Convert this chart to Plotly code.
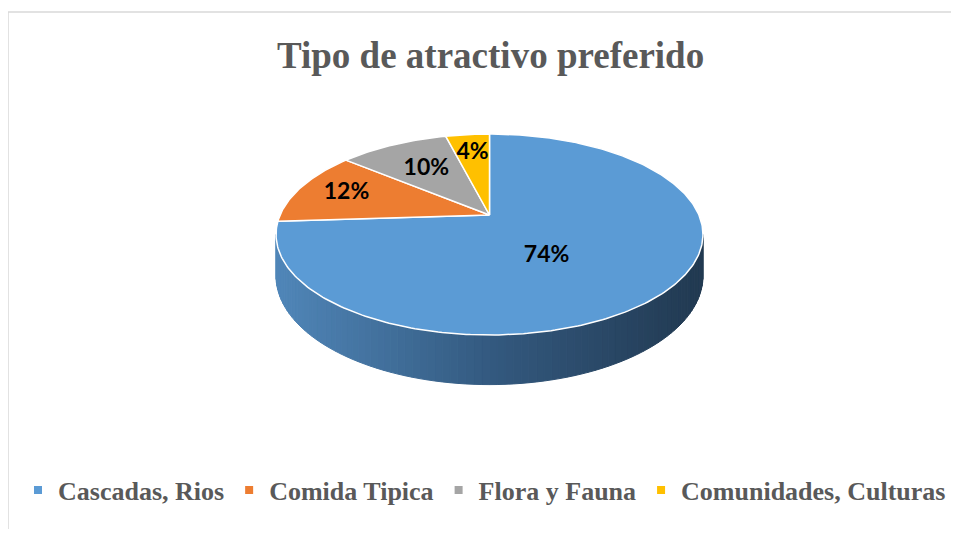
import numpy as np
import plotly.graph_objects as go

# ---------------- data ----------------
categories = ["Cascadas, Rios", "Comida Tipica", "Flora y Fauna", "Comunidades, Culturas"]
values = [74, 12, 10, 4]
slice_colors = ["#5B9BD5", "#ED7D31", "#A5A5A5", "#FFC000"]
title_text = "Tipo de atractivo preferido"

# ---------------- style / geometry ----------------
OFF = 8                    # page body margin of the browser
W, H = 959 - 2 * OFF, 537 - 2 * OFF
CX, CY = 489.5, 215.0      # projected pie centre (page pixels)
A, B = 209.4, 96.7         # horizontal / vertical radius scale
K = 0.194                  # perspective factor
DEPTH = 40.0               # thickness of the pie
LABEL_R = [0.47, 0.75, 0.62, 0.74]
LABEL_DA = [0.04, 0.0, 0.0, 0.0]   # small angular nudges (fraction of turn)


def proj(r, theta, depth=0.0):
    x = r * np.sin(theta)
    y = r * np.cos(theta)
    w = 1 + K * y
    return CX + A * x / w, CY - B * y / w + depth / w


fig = go.Figure()

total = float(sum(values))
fracs = [v / total for v in values]
starts = np.concatenate([[0.0], np.cumsum(fracs)[:-1]])

# ---------- side wall (visible front arc of the first slice) ----------
t_lo = np.arccos(-K)
t_hi = 2 * np.pi - t_lo
blue_end = 2 * np.pi * fracs[0]
t_hi = min(t_hi, blue_end)
N = 90
ts = np.linspace(t_lo, t_hi, N + 1)
c_left = np.array([80, 134, 184])
c_mid = np.array([52, 90, 128])
c_right = np.array([34, 58, 82])
for i in range(N):
    ta, tb = ts[i], ts[i + 1]
    xa, ya = proj(1, ta)
    xb, yb = proj(1, tb)
    xa2, ya2 = proj(1, ta, DEPTH)
    xb2, yb2 = proj(1, tb, DEPTH)
    xm = (xa + xb) / 2
    f = (xm - (CX - A)) / (2 * A)
    f = min(max(f, 0), 1)
    if f < 0.5:
        c = c_left + (c_mid - c_left) * (f / 0.5)
    else:
        c = c_mid + (c_right - c_mid) * ((f - 0.5) / 0.5)
    col = "rgb(%d,%d,%d)" % tuple(c.astype(int))
    fig.add_trace(go.Scatter(
        x=[xa, xb, xb2, xa2, xa], y=[ya, yb, yb2, ya2, ya],
        mode="lines", fill="toself", fillcolor=col,
        line=dict(color=col, width=1), hoverinfo="skip", showlegend=False))

# ---------- top face slices ----------
for i, (cat, fr, st) in enumerate(zip(categories, fracs, starts)):
    a0 = 2 * np.pi * st
    a1 = 2 * np.pi * (st + fr)
    n = max(int(fr * 400), 8)
    th = np.linspace(a0, a1, n)
    px, py = proj(1, th)
    xs = np.concatenate([[CX], px, [CX]])
    ys = np.concatenate([[CY], py, [CY]])
    fig.add_trace(go.Scatter(
        x=xs, y=ys, mode="lines", fill="toself", fillcolor=slice_colors[i],
        line=dict(color="white", width=1.5), hoverinfo="skip", showlegend=False))

# ---------- data labels ----------
lx, ly = [], []
for i, (fr, st) in enumerate(zip(fracs, starts)):
    mid = 2 * np.pi * (st + fr / 2 + LABEL_DA[i])
    x, y = proj(LABEL_R[i], mid)
    lx.append(x)
    ly.append(y)
fig.add_trace(go.Scatter(
    x=lx, y=ly, mode="text", text=["%d%%" % v for v in values],
    textfont=dict(family="Lato, Open Sans, sans-serif", size=23, color="black", weight="bold"),
    hoverinfo="skip", showlegend=False))

# ---------- legend entries ----------
for cat, col in zip(categories, slice_colors):
    fig.add_trace(go.Scatter(
        x=[None], y=[None], mode="markers", name=cat,
        marker=dict(symbol="square", size=8, color=col)))

fig.update_layout(
    width=W, height=H,
    margin=dict(l=0, r=0, t=0, b=0),
    paper_bgcolor="white", plot_bgcolor="white",
    xaxis=dict(range=[OFF, W + OFF], visible=False, fixedrange=True, domain=[0, 1]),
    yaxis=dict(range=[H + OFF, OFF], visible=False, fixedrange=True, domain=[0, 1]),
    showlegend=True,
    legend=dict(orientation="h", x=(489 - OFF) / W, xanchor="center",
                y=1 - (490 - OFF) / H, yanchor="middle",
                font=dict(family="Liberation Serif, Times New Roman, serif", size=26,
                          color="#595959", weight="bold"),
                bgcolor="rgba(0,0,0,0)"),
    annotations=[dict(text=title_text, x=490, y=55, xref="x", yref="y", showarrow=False,
                      xanchor="center", yanchor="middle",
                      font=dict(family="Liberation Serif, Times New Roman, serif", size=37,
                                color="#595959", weight="bold"))],
    shapes=[dict(type="rect", xref="x", yref="y", x0=8, y0=12, x1=W + 60, y1=H + 60,
                 line=dict(color="#D9D9D9", width=1.5), layer="below")],
    hovermode=False,
)

fig.write_html("out.html")
